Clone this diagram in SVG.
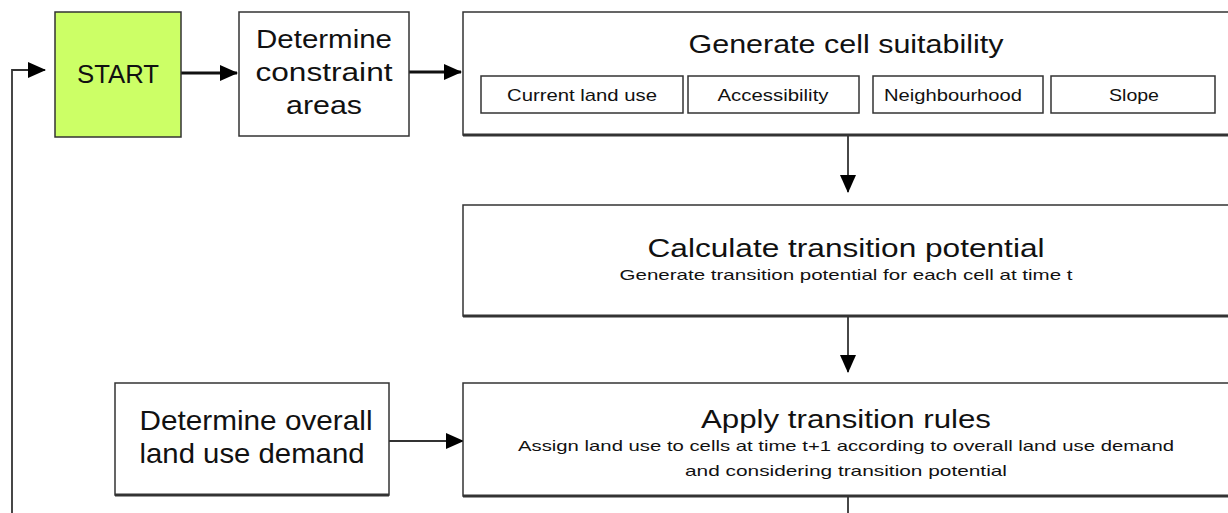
<svg xmlns="http://www.w3.org/2000/svg" width="1228" height="513" viewBox="0 0 1228 513">
<defs>
<style>
.box{fill:#fff;stroke:#333;stroke-width:1.5}
.sub{fill:#fff;stroke:#333;stroke-width:1.5}
.shadow{stroke:#333;stroke-width:3}
.w{font-family:"Liberation Sans",Arial,sans-serif;fill:#111;text-anchor:middle}
.thick{stroke:#111;stroke-width:3;fill:none}
.thin{stroke:#333;stroke-width:1.8;fill:none}
</style>
<marker id="ah2" markerWidth="18" markerHeight="18" refX="17" refY="9" orient="auto" markerUnits="userSpaceOnUse" viewBox="0 0 18 18">
<path d="M0,1 L18,9 L0,17 z" fill="#000"/>
</marker>
</defs>
<g id="connectors">
<path class="thin" d="M12,513 V70 H45" marker-end="url(#ah2)"/>
<path class="thick" d="M181,73 H237" marker-end="url(#ah2)"/>
<path class="thick" d="M409,72 H461" marker-end="url(#ah2)"/>
<path class="thin" d="M848,136 V192" marker-end="url(#ah2)"/>
<path class="thin" d="M848,317 V372" marker-end="url(#ah2)"/>
<path class="thin" d="M389,441 H463" marker-end="url(#ah2)"/>
<path class="thin" d="M848,497 V513"/>
</g>
<g id="start">
<rect x="55" y="12" width="126" height="125" fill="#ccff66" stroke="#333" stroke-width="1.5"/>
<text class="w" x="118" y="83" font-size="26" fill="#333" textLength="82" lengthAdjust="spacingAndGlyphs">START</text>
</g>
<g id="constraint">
<rect class="box" x="239" y="12" width="170" height="124"/>
<text class="w" x="324" y="48" font-size="25" textLength="136" lengthAdjust="spacingAndGlyphs">Determine</text>
<text class="w" x="324" y="81" font-size="25" textLength="137" lengthAdjust="spacingAndGlyphs">constraint</text>
<text class="w" x="324" y="114" font-size="25" textLength="76" lengthAdjust="spacingAndGlyphs">areas</text>
</g>
<g id="suitability">
<rect class="box" x="463" y="12" width="770" height="123"/>
<line class="shadow" x1="463" y1="135" x2="1228" y2="135"/>
<text class="w" x="846" y="53" font-size="26" textLength="315" lengthAdjust="spacingAndGlyphs">Generate cell suitability</text>
<rect class="sub" x="481" y="76" width="202" height="37"/>
<text class="w" x="582" y="101" font-size="17" textLength="150" lengthAdjust="spacingAndGlyphs">Current land use</text>
<rect class="sub" x="688" y="76" width="171" height="37"/>
<text class="w" x="773" y="101" font-size="17" textLength="111" lengthAdjust="spacingAndGlyphs">Accessibility</text>
<rect class="sub" x="873" y="76" width="170" height="37"/>
<text class="w" x="953" y="101" font-size="17" textLength="138" lengthAdjust="spacingAndGlyphs">Neighbourhood</text>
<rect class="sub" x="1051" y="76" width="164" height="37"/>
<text class="w" x="1134" y="101" font-size="17" textLength="50" lengthAdjust="spacingAndGlyphs">Slope</text>
</g>
<g id="potential">
<rect class="box" x="463" y="205" width="770" height="111"/>
<line class="shadow" x1="463" y1="316" x2="1228" y2="316"/>
<text class="w" x="846" y="257" font-size="26" textLength="397" lengthAdjust="spacingAndGlyphs">Calculate transition potential</text>
<text class="w" x="846" y="280" font-size="15" textLength="453" lengthAdjust="spacingAndGlyphs">Generate transition potential for each cell at time t</text>
</g>
<g id="rules">
<rect class="box" x="463" y="383" width="770" height="113"/>
<line class="shadow" x1="463" y1="496" x2="1228" y2="496"/>
<text class="w" x="846" y="428" font-size="26" textLength="290" lengthAdjust="spacingAndGlyphs">Apply transition rules</text>
<text class="w" x="846" y="451" font-size="15" textLength="656" lengthAdjust="spacingAndGlyphs">Assign land use to cells at time t+1 according to overall land use demand</text>
<text class="w" x="846" y="476" font-size="15" textLength="322" lengthAdjust="spacingAndGlyphs">and considering transition potential</text>
</g>
<g id="demand">
<rect class="box" x="115" y="383" width="274" height="112"/>
<line class="shadow" x1="115" y1="495" x2="389" y2="495"/>
<text class="w" x="256" y="430" font-size="28" textLength="233" lengthAdjust="spacingAndGlyphs">Determine overall</text>
<text class="w" x="252" y="463" font-size="28" textLength="225" lengthAdjust="spacingAndGlyphs">land use demand</text>
</g>
</svg>
